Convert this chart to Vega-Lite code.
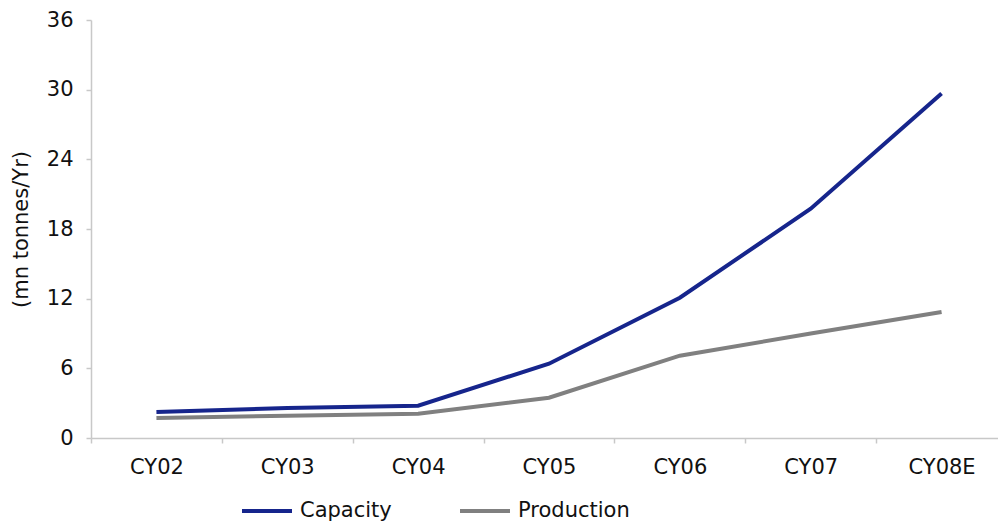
{
  "$schema": "https://vega.github.io/schema/vega-lite/v6.json",
  "width": 906,
  "height": 418,
  "autosize": {"type": "none"},
  "padding": {"left": 91, "top": 20, "right": 1, "bottom": 84},
  "background": "white",
  "config": {
    "view": {"stroke": null},
    "font": "DejaVu Sans",
    "axis": {
      "labelFont": "DejaVu Sans",
      "labelFontSize": 21,
      "labelColor": "#111111",
      "titleFont": "DejaVu Sans",
      "titleFontSize": 21,
      "titleFontWeight": "normal",
      "titleColor": "#111111",
      "domainColor": "#c8c8c8",
      "domainWidth": 1.5,
      "tickColor": "#c8c8c8",
      "tickWidth": 1.5,
      "tickSize": 5,
      "grid": false
    },
    "legend": {
      "labelFont": "DejaVu Sans",
      "labelFontSize": 21,
      "labelColor": "#111111"
    }
  },
  "data": {
    "values": [
      {"year": "CY02", "series": "Capacity", "value": 2.24},
      {"year": "CY03", "series": "Capacity", "value": 2.58},
      {"year": "CY04", "series": "Capacity", "value": 2.78},
      {"year": "CY05", "series": "Capacity", "value": 6.4},
      {"year": "CY06", "series": "Capacity", "value": 12.08},
      {"year": "CY07", "series": "Capacity", "value": 19.75},
      {"year": "CY08E", "series": "Capacity", "value": 29.66},
      {"year": "CY02", "series": "Production", "value": 1.72},
      {"year": "CY03", "series": "Production", "value": 1.92},
      {"year": "CY04", "series": "Production", "value": 2.09},
      {"year": "CY05", "series": "Production", "value": 3.47},
      {"year": "CY06", "series": "Production", "value": 7.09},
      {"year": "CY07", "series": "Production", "value": 9.0},
      {"year": "CY08E", "series": "Production", "value": 10.85}
    ]
  },
  "mark": {"type": "line", "strokeWidth": 4, "strokeCap": "butt", "strokeJoin": "miter"},
  "encoding": {
    "x": {
      "field": "year",
      "type": "ordinal",
      "sort": null,
      "scale": {"type": "band", "paddingInner": 0, "paddingOuter": 0, "range": [0, 916]},
      "axis": {
        "title": null,
        "labelAngle": 0,
        "labelPadding": 13,
        "tickBand": "extent",
        "domainColor": "#c8c8c8"
      }
    },
    "y": {
      "field": "value",
      "type": "quantitative",
      "scale": {"domain": [0, 36], "nice": false},
      "axis": {
        "title": "(mn tonnes/Yr)",
        "values": [0, 6, 12, 18, 24, 30, 36],
        "labelPadding": 13,
        "titlePadding": 15
      }
    },
    "color": {
      "field": "series",
      "type": "nominal",
      "scale": {"domain": ["Capacity", "Production"], "range": ["#16258c", "#808080"]},
      "legend": {
        "title": null,
        "orient": "none",
        "direction": "horizontal",
        "legendX": 149,
        "legendY": 464,
        "symbolType": "stroke",
        "symbolSize": 2500,
        "symbolStrokeWidth": 4,
        "labelOffset": 6,
        "columnPadding": 60
      }
    }
  }
}
